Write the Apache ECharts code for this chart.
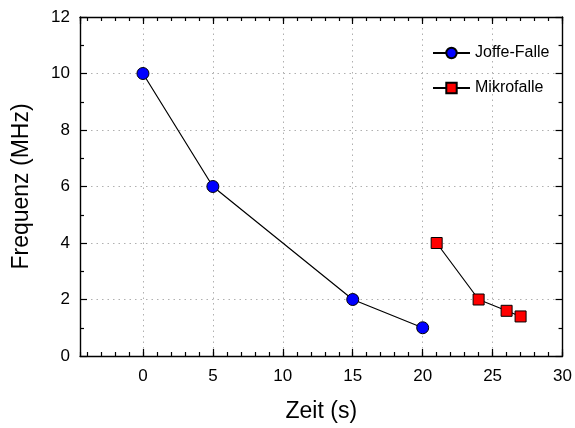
<!DOCTYPE html>
<html>
<head>
<meta charset="utf-8">
<script src="https://cdn.jsdelivr.net/npm/echarts@6/dist/echarts.min.js"></script>
<style>
  html, body { margin: 0; padding: 0; background: #fff; }
  #chart { width: 575px; height: 428px; }
</style>
</head>
<body>
<div id="chart"></div>
<script>
// Trap frequency over time for the two trap stages
const joffeTime = [0, 5, 15, 20];
const joffeFreq = [10, 6, 2, 1];
const mikroTime = [21, 24, 26, 27];
const mikroFreq = [4, 2, 1.6, 1.4];

const seriesNames = ['Joffe-Falle', 'Mikrofalle'];
const xTitle = 'Zeit (s)';
const yTitle = 'Frequenz (MHz)';

const xRange = [-4.5, 30];
const yRange = [0, 12];

const FONT = '"Liberation Sans", Arial, sans-serif';
const AXIS_W = 1.4;
const gridStyle = { show: true, lineStyle: { color: '#b0b0b0', type: [1.5, 4], width: 1 } };

function pairs(xs, ys) { return xs.map((x, i) => [x, ys[i]]); }

// major-tick x axis (auto interval -> 5), minor-tick x axis (auto interval -> 1)
function xMajor(pos, withLabels) {
  return {
    type: 'value', position: pos, min: xRange[0], max: xRange[1], splitNumber: 7,
    axisLine: { show: true, onZero: false, lineStyle: { color: '#000', width: AXIS_W } },
    axisTick: { show: true, inside: true, length: 7, lineStyle: { color: '#000', width: 1.2 } },
    axisLabel: withLabels ? {
      show: true, fontFamily: FONT, fontSize: 17, color: '#000', margin: 12,
      showMinLabel: false,
      formatter: v => (v >= 0 && Math.abs(v % 5) < 1e-9) ? String(Math.round(v)) : ''
    } : { show: false },
    splitLine: withLabels ? gridStyle : { show: false },
    name: withLabels ? xTitle : '',
    nameLocation: 'middle', nameGap: 44,
    nameTextStyle: { fontFamily: FONT, fontSize: 23, color: '#000' }
  };
}
function xMinor(pos) {
  return {
    type: 'value', position: pos, min: xRange[0], max: xRange[1], splitNumber: 35,
    axisLine: { show: false, onZero: false },
    axisTick: { show: true, inside: true, length: 4, lineStyle: { color: '#000', width: 1.2 } },
    axisLabel: { show: false }, splitLine: { show: false }
  };
}
function yAxisDef(pos, withLabels) {
  return {
    type: 'value', position: pos, min: yRange[0], max: yRange[1], interval: 2,
    axisLine: { show: true, onZero: false, lineStyle: { color: '#000', width: AXIS_W } },
    axisTick: { show: true, inside: true, length: 7, lineStyle: { color: '#000', width: 1.2 } },
    minorTick: { show: true, splitNumber: 2, length: 4, lineStyle: { color: '#000', width: 1.2 } },
    axisLabel: withLabels ? { show: true, fontFamily: FONT, fontSize: 17, color: '#000', margin: 10 } : { show: false },
    splitLine: withLabels ? gridStyle : { show: false },
    name: withLabels ? yTitle : '',
    nameLocation: 'middle', nameGap: 47,
    nameTextStyle: { fontFamily: FONT, fontSize: 23, color: '#000' }
  };
}

const chart = echarts.init(document.getElementById('chart'), null, { renderer: 'canvas' });
chart.setOption({
  animation: false,
  backgroundColor: '#fff',
  grid: { left: 80, right: 11, top: 17, bottom: 72, containLabel: false },
  legend: {
    orient: 'vertical', left: 427, top: 40, itemWidth: 37, itemHeight: 13, itemGap: 19,
    textStyle: { fontFamily: FONT, fontSize: 16, color: '#000' },
    data: seriesNames
  },
  xAxis: [xMajor('bottom', true), xMinor('bottom'), xMajor('top', false), xMinor('top')],
  yAxis: [yAxisDef('left', true), yAxisDef('right', false)],
  series: [
    {
      name: seriesNames[0], type: 'line', data: pairs(joffeTime, joffeFreq),
      symbol: 'circle', symbolSize: 12,
      lineStyle: { color: '#000', width: 1.2 },
      itemStyle: { color: '#0000ff', borderColor: '#000', borderWidth: 1 }
    },
    {
      name: seriesNames[1], type: 'line', data: pairs(mikroTime, mikroFreq),
      symbol: 'rect', symbolSize: 11,
      lineStyle: { color: '#000', width: 1.2 },
      itemStyle: { color: '#ff0000', borderColor: '#000', borderWidth: 1 }
    }
  ]
});
</script>
</body>
</html>
